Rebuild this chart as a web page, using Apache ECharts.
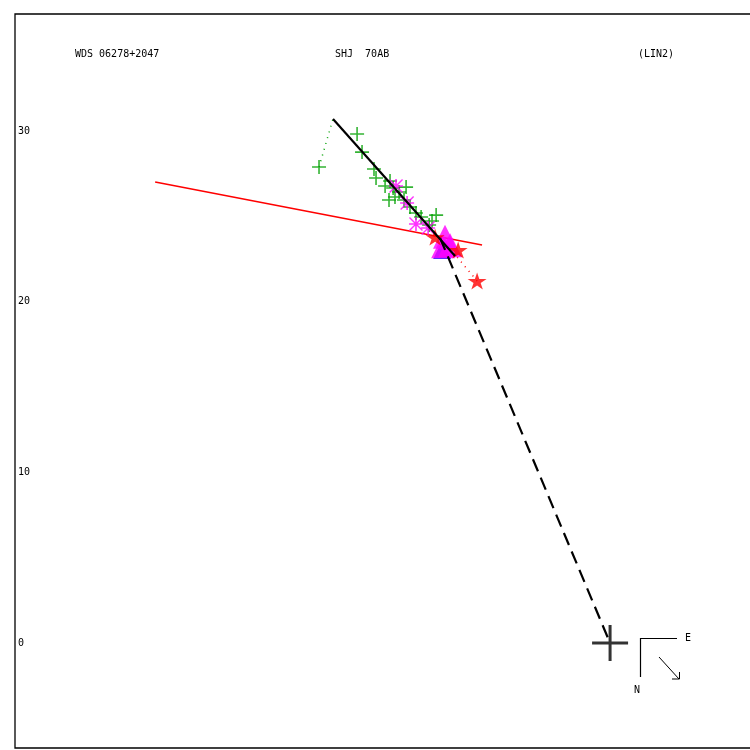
<!DOCTYPE html>
<html>
<head>
<meta charset="utf-8">
<script src="https://cdn.jsdelivr.net/npm/echarts@6/dist/echarts.min.js"></script>
<style>html,body{margin:0;padding:0;background:#fff;}#c{width:750px;height:750px;}</style>
</head>
<body>
<div id="c"></div>
<script>
// ---- data (arcsec-like units; origin = primary star) ----
const yTicks = [0, 10, 20, 30];
const titleLeft = 'WDS 06278+2047';
const titleMid = 'SHJ  70AB';
const titleRight = '(LIN2)';

const greenPlus = [
  [-17.05, 27.89], [-14.82, 29.82], [-14.53, 28.76], [-13.83, 27.77], [-13.71, 27.24],
  [-13.18, 26.77], [-12.89, 27.07], [-12.71, 26.66], [-12.95, 25.95], [-12.60, 26.13],
  [-12.36, 26.42], [-11.95, 26.71], [-12.07, 25.95], [-11.72, 25.54], [-11.37, 25.19],
  [-11.07, 24.96], [-10.43, 24.72], [-10.19, 25.07], [-10.60, 24.49]
];
const magentaAst = [
  [-12.54, 26.77], [-11.89, 25.78], [-11.37, 24.55], [-10.66, 24.31]
];
const blueTri = [[-9.84, 23.02]];
const magentaTri = [[-9.67, 23.80], [-9.37, 23.30], [-9.78, 23.25]];
const redStars = [[-10.25, 23.78], [-8.90, 23.02], [-7.79, 21.21]];
const primary = [[0, 0]];

const fitLine = [[-16.23, 30.70], [-9.08, 22.67]];
const dashLine = [[-9.96, 23.73], [0, 0]];
const redLine = [[-26.65, 27.01], [-7.50, 23.32]];
const greenResid = [[-17.05, 27.89], [-16.23, 30.70]];
const redResid = [[-7.79, 21.21], [-8.96, 22.61]];

// ---- symbols ----
const plusPath = 'path://M6.2,0H7.8V14H6.2Z M0,6.2H14V7.8H0Z';
const astPath = 'path://M6.2,0H7.8V14H6.2Z M0,6.2H14V7.8H0Z M0,1L1,0L14,13L13,14Z M13,0L14,1L1,14L0,13Z';
const starPath = 'path://M50,0L61,35L98,35L68,57L79,91L50,70L21,91L32,57L2,35L39,35Z';
const bigCross = 'path://M16.5,0H19.5V36H16.5Z M0,16.5H36V19.5H0Z';

const chart = echarts.init(document.getElementById('c'), null, {renderer: 'canvas'});
const mono = 'DejaVu Sans Mono, monospace';

const lineSeries = (data, color, width, type, z) => ({
  type: 'line', data, showSymbol: false, symbol: 'none', z,
  lineStyle: {color, width, type}, animation: false, silent: true
});
const scatter = (data, symbol, size, color, z) => ({
  type: 'scatter', data, symbol, symbolSize: size, z,
  itemStyle: {color}, animation: false, silent: true
});

chart.setOption({
  animation: false,
  backgroundColor: '#fff',
  grid: {left: 15, top: 14, width: 740, height: 734, show: true,
         borderColor: '#000', borderWidth: 1.3, backgroundColor: 'transparent',
         outerBoundsMode: 'none', containLabel: false},
  xAxis: {type: 'value', min: -34.86, max: 8.49, show: false},
  yAxis: {type: 'value', min: -6.15, max: 36.85,
          axisLine: {show: false}, axisTick: {show: false}, splitLine: {show: false},
          axisLabel: {inside: true, margin: 3, customValues: yTicks,
                      fontFamily: mono, fontSize: 10, color: '#000'}},
  graphic: [
    {type: 'text', left: 75, top: 49, style: {text: titleLeft, font: '10px ' + mono, fill: '#000'}},
    {type: 'text', left: 335, top: 49, style: {text: titleMid, font: '10px ' + mono, fill: '#000'}},
    {type: 'text', left: 638, top: 49, style: {text: titleRight, font: '10px ' + mono, fill: '#000'}},
    {type: 'polyline', shape: {points: [[677, 638.5], [640.5, 638.5], [640.5, 677]]}, style: {stroke: '#000', lineWidth: 1.2, fill: null}},
    {type: 'text', x: 685, y: 633, style: {text: 'E', font: '10px ' + mono, fill: '#000'}},
    {type: 'text', x: 634, y: 685, style: {text: 'N', font: '10px ' + mono, fill: '#000'}},
    {type: 'line', shape: {x1: 659, y1: 657, x2: 679, y2: 679}, style: {stroke: '#000', lineWidth: 1}},
    {type: 'polyline', shape: {points: [[672, 679], [679.5, 679], [679.5, 672]]}, style: {stroke: '#000', lineWidth: 1, fill: null}}
  ],
  series: [
    lineSeries(redLine, '#ff0000', 1.5, 'solid', 2),
    lineSeries(greenResid, '#00a000', 1.5, [1, 5], 2),
    lineSeries(redResid, '#ff0000', 1.5, [1, 5], 2),
    scatter(greenPlus, plusPath, 14, '#00a000', 3),
    scatter(magentaAst, astPath, 14, '#ff00ff', 4),
    scatter(blueTri, 'triangle', 18, '#0000ff', 5),
    scatter(magentaTri, 'triangle', 24, '#ff00ff', 6),
    scatter(redStars, starPath, [19, 17], '#ff0000', 7),
    lineSeries(fitLine, '#000', 2.2, 'solid', 8),
    lineSeries(dashLine, '#000', 2.2, [13, 7], 8),
    scatter(primary, bigCross, 36, '#000', 9)
  ]
});
</script>
</body>
</html>
